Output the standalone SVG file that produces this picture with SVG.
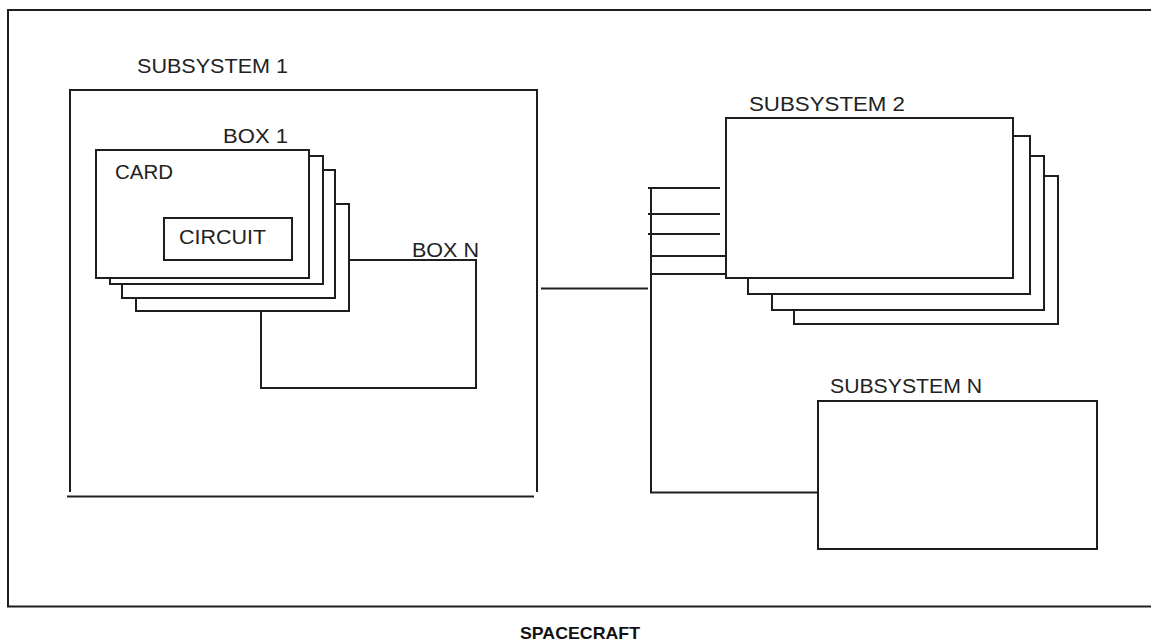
<svg xmlns="http://www.w3.org/2000/svg" width="1151" height="644" viewBox="0 0 1151 644">
<style>
.ln{fill:none;stroke:#1e1e1e;stroke-width:2}
.bx{fill:#fff;stroke:#1e1e1e;stroke-width:2}
.t{font-family:"Liberation Sans",Arial,sans-serif;font-size:20px;fill:#222}
.tb{font-family:"Liberation Sans",Arial,sans-serif;font-size:17px;font-weight:bold;fill:#111}
</style>
<rect x="0" y="0" width="1151" height="644" fill="#fff"/>
<g id="spacecraft">
<rect class="ln" x="8" y="10" width="1150" height="596.5"/>
<text class="tb" x="520" y="639" textLength="120" lengthAdjust="spacingAndGlyphs">SPACECRAFT</text>
</g>
<g id="subsystem1">
<path class="ln" d="M70,492 V90 H537 V492 M67,496.5 H534"/>
<text class="t" x="137" y="73" textLength="151" lengthAdjust="spacingAndGlyphs">SUBSYSTEM 1</text>
</g>
<g id="boxN">
<rect class="ln" x="261" y="260" width="215" height="128"/>
<text class="t" x="412" y="257" textLength="67" lengthAdjust="spacingAndGlyphs">BOX N</text>
</g>
<g id="box1">
<rect class="bx" x="136" y="204" width="213" height="107"/>
<rect class="bx" x="122" y="170" width="213" height="128"/>
<rect class="bx" x="110" y="156" width="213" height="128"/>
<text class="t" x="223" y="143" textLength="65" lengthAdjust="spacingAndGlyphs">BOX 1</text>
</g>
<g id="card">
<rect class="bx" x="96" y="150" width="213" height="128"/>
<text class="t" x="115" y="179" textLength="58" lengthAdjust="spacingAndGlyphs">CARD</text>
</g>
<g id="circuit">
<rect class="bx" x="164" y="218" width="128" height="42"/>
<text class="t" x="179" y="244" textLength="87" lengthAdjust="spacingAndGlyphs">CIRCUIT</text>
</g>
<g id="subsystem2">
<rect class="bx" x="794" y="176" width="264" height="148"/>
<rect class="bx" x="772" y="156" width="272" height="154"/>
<rect class="bx" x="748" y="136" width="282" height="158"/>
<rect class="bx" x="726" y="118" width="287" height="160"/>
<text class="t" x="749" y="111" textLength="156" lengthAdjust="spacingAndGlyphs">SUBSYSTEM 2</text>
</g>
<g id="subsystemN">
<rect class="ln" x="818" y="401" width="279" height="148"/>
<text class="t" x="830" y="393" textLength="152" lengthAdjust="spacingAndGlyphs">SUBSYSTEM N</text>
</g>
<g id="connectors">
<path class="ln" d="M541,288.5 H648"/>
<path class="ln" d="M651,187 V492.5 H818"/>
<path class="ln" d="M648,188 H720 M648,214 H720 M648,234 H720 M651,256 H726 M651,274 H726"/>
</g>
</svg>
